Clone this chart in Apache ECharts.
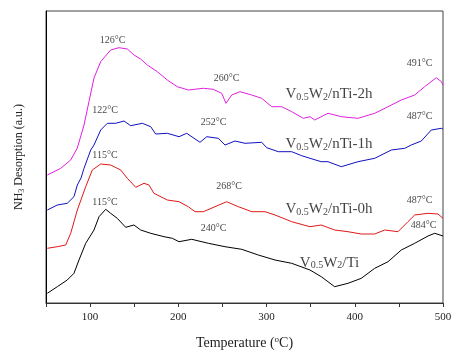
<!DOCTYPE html>
<html><head><meta charset="utf-8">
<script src="https://cdn.jsdelivr.net/npm/echarts@6/dist/echarts.min.js"></script>
<style>html,body{margin:0;padding:0;background:#fff}#c{width:470px;height:358px}</style>
</head><body><div id="c"></div>
<script>
// Temperature (°C) and signal (a.u.) for each sample
const temp2h = [51.5,59.1,66.7,78,85.5,93.1,98.7,104.4,112,123.3,132.7,142.2,149.7,157.3,164.8,176.2,187.5,198.8,211.3,228.3,239.6,249.2,254,260.5,269.9,283.2,294.5,305.8,317.2,328.5,341.7,349.2,354.6,369.6,384.7,403.6,422.6,437.7,452.7,467.9,479.2,492.4,498.1,500];
const val2h  = [128,131.3,134.7,143,155,178,201.3,225,241.3,253,255.3,254,248,244,238,231.3,223,216.3,213,214.7,213.7,209.7,199.7,208,211.3,208,204.7,196.3,196.3,191.3,184.7,186.3,183,189.7,186.3,184.7,189.7,196.3,203,208,216.3,225.3,221.3,218];

const temp1h = [51.5,62.8,74.1,81.7,85.5,89.7,93.1,100.7,104.4,112,119.5,129,138.4,146,159.2,168.7,174.3,187.5,200.8,209.5,224.6,232.2,245.3,252.9,264.2,275.6,294.5,300.2,313.3,328.5,339.8,349.2,362,369.6,384.7,403.6,422.6,441.4,456.6,464,475.4,486.7,498.1,500];
const val1h  = [93,98,99.7,106.3,118,125,134.7,153,158,173,179.7,179.7,182,177.3,179.7,176.3,169,169.7,166.3,169.7,160.7,166.3,164.7,158,162,159.7,160.7,155.3,151.3,151.3,147.3,144.7,141.3,141.3,136.3,141.3,144.7,153,154.7,158,162,173,174.7,174];

const temp0h = [51.5,62.8,72.3,78,85.5,95,102.5,112,123.3,134.7,142.2,151.7,161.1,166.7,172.4,187.5,200.8,211.3,218.9,228.3,241.6,254.8,268,283.2,298.2,309.6,328.5,349.2,362,377.2,392.3,407.4,422.6,433.9,449,460.3,467.9,483,494.3,500];
const val0h  = [54.7,56.3,58,69.7,93,116.3,133,139,138,133,124.7,115.7,119.7,118,109.7,103,101.3,96.3,91.3,91.3,96.3,101.3,96.3,91.3,91.3,88,81.3,76.3,78,73,71.3,69,69,73,71.3,81.3,88,89.7,89,84.7];

const tempTi = [51.5,62.8,74.1,81.7,87.4,95,104.4,110.1,117.7,123.3,130.8,140.3,149.7,157.3,168.7,183.8,193.2,200.8,215.2,234,252.9,271.8,290.6,309.6,328.5,349.2,362,377.2,392.3,407.4,422.6,437.7,452.7,467.9,483,490.6,500];
const valTi  = [9.7,16.3,23,29.7,43,59.7,73,86.3,93.7,89.7,84.7,75.7,78,73,69.7,66.3,64.7,61.3,63.7,59.7,56.3,53.7,48,43,39.7,33,26.3,16.3,19.7,24.7,34.7,41.3,53,59.7,67,69.7,67];

// Peak annotations: temperature anchor, signal anchor, text
const peakTemps  = [125.4,254.6,473.4,116.9,239.9,473.4,116.9,257.4,473.4,116.9,239.9,477.9];
const peakVals   = [263,225,239.5,193,180.5,186.5,148,117,102.5,101,75,77.5];
const peakTexts  = ['126°C','260°C','491°C','122°C','252°C','487°C','115°C','268°C','487°C','115°C','240°C','484°C'];

// Sample name annotations
const sampleTemps = [370.8,370.8,370.8,371.4];
const sampleVals  = [210,160,95,41.5];
const sampleNames = ['nTi-2h','nTi-1h','nTi-0h','Ti'];

const seriesColors = ['#e020e0','#1010c0','#e01818','#000000'];
const SERIF = '"Liberation Serif","DejaVu Serif",serif';

function zip(a,b){return a.map((t,i)=>[t,b[i]]);}

const chart = echarts.init(document.getElementById('c'));
const lineSeries = [[temp2h,val2h],[temp1h,val1h],[temp0h,val0h],[tempTi,valTi]].map((d,i)=>({
  type:'line', data:zip(d[0],d[1]), showSymbol:false, symbol:'none',
  lineStyle:{width:1,color:seriesColors[i]}, animation:false, z:3
}));

const peakSeries = {
  type:'scatter', symbolSize:0, animation:false, silent:true,
  data: peakTemps.map((t,i)=>[t,peakVals[i],peakTexts[i]]),
  label:{show:true, position:'inside', formatter:p=>p.data[2], color:'#111', fontFamily:SERIF, fontSize:10}
};
const nameSeries = {
  type:'scatter', symbolSize:0, animation:false, silent:true,
  data: sampleTemps.map((t,i)=>[t,sampleVals[i],sampleNames[i]]),
  label:{show:true, position:'inside',
    formatter:p=>'{m|V}{s|0.5}{m|W}{s|2}{m|/'+p.data[2]+'}',
    rich:{
      m:{fontFamily:SERIF,fontSize:15,color:'#111',lineHeight:18,verticalAlign:'bottom'},
      s:{fontFamily:SERIF,fontSize:10,color:'#111',lineHeight:9,verticalAlign:'bottom'}
    }}
};

chart.setOption({
  backgroundColor:'#fff',
  animation:false,
  grid:{left:46,right:27,top:11,bottom:55,show:true,borderColor:'#444',borderWidth:1},
  xAxis:{type:'value',min:50,max:500,interval:50,
    axisLine:{show:true,lineStyle:{color:'#333',width:1}},
    axisTick:{show:true,inside:false,length:4,lineStyle:{color:'#333'}},
    splitLine:{show:false},
    axisLabel:{formatter:v=>(v%100===0?String(v):''),fontFamily:SERIF,fontSize:11,color:'#222',margin:9},
    name:'Temperature ({sup|o}C)',nameLocation:'middle',nameGap:32,
    nameTextStyle:{fontFamily:SERIF,fontSize:14,color:'#222',lineHeight:16,verticalAlign:'top',
      rich:{sup:{fontFamily:SERIF,fontSize:9,color:'#222',lineHeight:16,verticalAlign:'top'}}}
  },
  yAxis:{type:'value',min:0,max:292,
    axisLine:{show:true,lineStyle:{color:'#000',width:1}},
    axisTick:{show:false},axisLabel:{show:false},splitLine:{show:false},
    name:'NH{sub|3} Desorption (a.u.)',nameLocation:'middle',nameGap:20,nameRotate:90,
    nameTextStyle:{fontFamily:SERIF,fontSize:12,color:'#222',lineHeight:14,
      rich:{sub:{fontFamily:SERIF,fontSize:8,color:'#222',lineHeight:7,verticalAlign:'bottom'}}}
  },
  series:[...lineSeries,peakSeries,nameSeries]
});
</script></body></html>
